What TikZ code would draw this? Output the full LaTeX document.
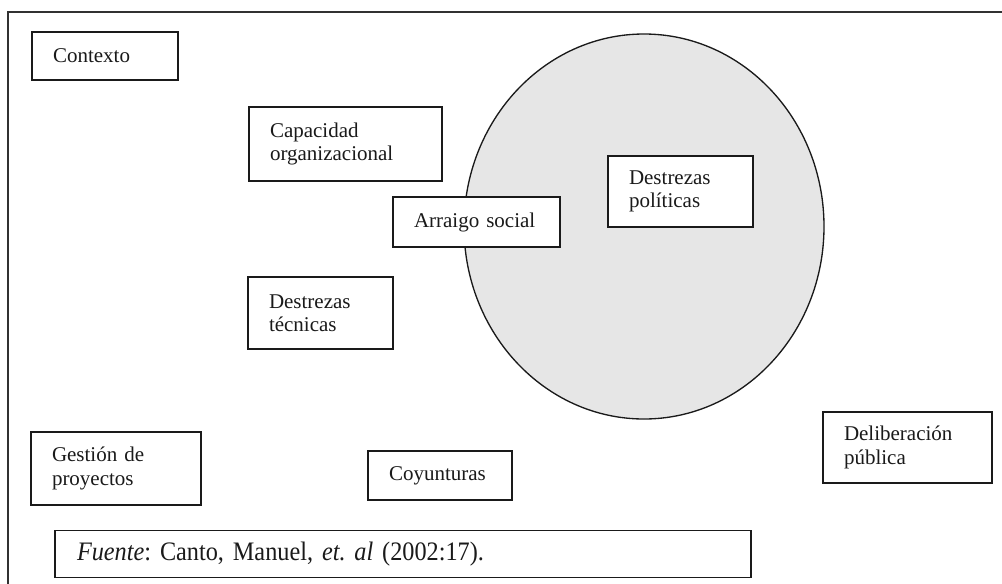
\documentclass[tikz,border=0pt]{standalone}
\usepackage{fontspec}
\setmainfont{Liberation Serif}
\newfontfamily\narrowserif[FakeStretch=0.91]{Liberation Serif}
\usetikzlibrary{shapes.geometric}
\definecolor{ellfill}{HTML}{E6E6E6}
\definecolor{ink}{HTML}{1A1A1A}
\tikzset{
  lbl/.style={draw=ink, line width=1.1pt, fill=white, align=left, inner xsep=15.75pt, inner ysep=2pt,
    text=ink, font=\fontsize{15.75}{17.6}\selectfont\frenchspacing},
  frameline/.style={draw=ink!90, line width=1.3pt},
}
\begin{document}
\begin{tikzpicture}[x=0.75pt,y=-0.75pt]
\path[use as bounding box] (0,0) rectangle (1002,583);
\begin{scope}
\clip (0,0) rectangle (1002,583);
\draw[frameline] (8,12) rectangle (1030,610);
\end{scope}
% circle of political skills
\node[ellipse, draw=ink, line width=1pt, fill=ellfill, minimum width=270pt, minimum height=288.75pt, inner sep=0pt] (circ) at (644,226.5) {};
% boxes
\node[lbl, text width=78pt, minimum height=36pt] (contexto) at (105,56) {Contexto};
\node[lbl, text width=113.25pt, minimum height=55.5pt] (capacidad) at (345.5,144) {Capacidad\\organizacional};
\node[lbl, text width=93.75pt, minimum height=37.5pt] (arraigo) at (476.5,222) {Arraigo social};
\node[lbl, text width=77.25pt, minimum height=53.25pt] (politicas) at (680.5,191.5) {Destrezas\\políticas};
\node[lbl, text width=77.25pt, minimum height=54pt] (tecnicas) at (320.5,313) {Destrezas\\técnicas};
\node[lbl, text width=96pt, minimum height=54.75pt] (gestion) at (116,468.5) {Gestión de\\proyectos};
\node[lbl, text width=76.5pt, minimum height=36.75pt] (coyunturas) at (440,475.5) {Coyunturas};
\node[lbl, text width=95.25pt, minimum height=53.25pt] (deliberacion) at (907.5,447.5) {Deliberación\\pública};
\node[lbl, text width=489pt, inner xsep=16.5pt, minimum height=35.25pt, font=\narrowserif\fontsize{20}{22}\selectfont\frenchspacing] (fuente) at (403,554) {\textit{Fuente}: Canto, Manuel, \textit{et. al} (2002:17).};
\end{tikzpicture}
\end{document}
